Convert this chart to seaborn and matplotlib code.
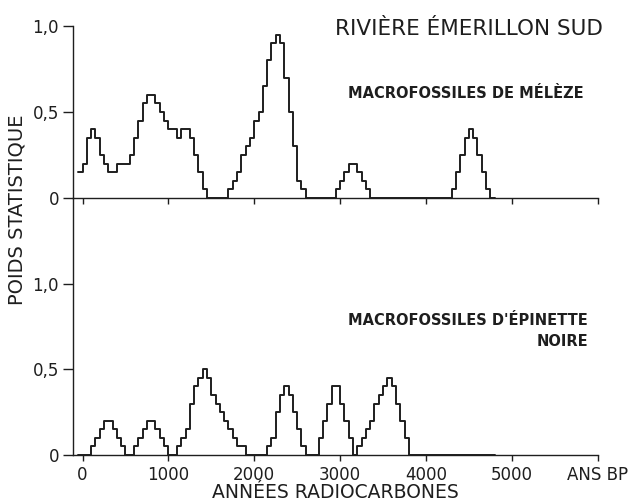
import numpy as np
import pandas as pd
import seaborn as sns
import matplotlib
matplotlib.use("Agg")
import matplotlib.pyplot as plt

# ---- data (bin start year, statistical weight), 50-year bins ----
larch_years = [-50, 0, 50, 100, 150, 200, 250, 300, 350, 400, 450, 500, 550, 600, 650,
               700, 750, 800, 850, 900, 950, 1000, 1050, 1100, 1150, 1200, 1250, 1300, 1350, 1400,
               1700, 1750, 1800, 1850, 1900, 1950, 2000, 2050, 2100, 2150, 2200, 2250, 2300,
               2350, 2400, 2450, 2500, 2550,
               2950, 3000, 3050, 3100, 3150, 3200, 3250, 3300,
               4300, 4350, 4400, 4450, 4500, 4550, 4600, 4650, 4700]
larch_weight = [0.15, 0.2, 0.35, 0.4, 0.35, 0.25, 0.2, 0.15, 0.15, 0.2, 0.2, 0.2, 0.25, 0.35, 0.45,
                0.55, 0.6, 0.6, 0.55, 0.5, 0.45, 0.4, 0.4, 0.35, 0.4, 0.4, 0.35, 0.25, 0.15, 0.05,
                0.05, 0.1, 0.15, 0.25, 0.3, 0.35, 0.45, 0.5, 0.65, 0.8, 0.9, 0.95, 0.9,
                0.7, 0.5, 0.3, 0.1, 0.05,
                0.05, 0.1, 0.15, 0.2, 0.2, 0.15, 0.1, 0.05,
                0.05, 0.15, 0.25, 0.35, 0.4, 0.35, 0.25, 0.15, 0.05]

spruce_years = [100, 150, 200, 250, 300, 350, 400, 450,
                600, 650, 700, 750, 800, 850, 900, 950,
                1100, 1150, 1200, 1250, 1300, 1350, 1400, 1450, 1500, 1550, 1600, 1650, 1700,
                1750, 1800, 1850,
                2150, 2200, 2250, 2300, 2350, 2400, 2450, 2500, 2550,
                2750, 2800, 2850, 2900, 2950, 3000, 3050, 3100,
                3200, 3250, 3300, 3350, 3400, 3450, 3500, 3550, 3600, 3650, 3700, 3750]
spruce_weight = [0.05, 0.1, 0.15, 0.2, 0.2, 0.15, 0.1, 0.05,
                 0.05, 0.1, 0.15, 0.2, 0.2, 0.15, 0.1, 0.05,
                 0.05, 0.1, 0.15, 0.3, 0.4, 0.45, 0.5, 0.45, 0.35, 0.3, 0.25, 0.2, 0.15,
                 0.1, 0.05, 0.05,
                 0.05, 0.1, 0.25, 0.35, 0.4, 0.35, 0.25, 0.15, 0.05,
                 0.1, 0.2, 0.3, 0.4, 0.4, 0.3, 0.2, 0.1,
                 0.05, 0.1, 0.15, 0.2, 0.3, 0.35, 0.4, 0.45, 0.4, 0.3, 0.2, 0.1]

x_ticks = [0, 1000, 2000, 3000, 4000, 5000, 6000]
x_tick_labels = ["0", "1000", "2000", "3000", "4000", "5000", "ANS BP"]
y_ticks = [0, 0.5, 1.0]
y_tick_labels = ["0", "0,5", "1,0"]

BIN = 50

sns.set_theme(style="white")
plt.rcParams["font.family"] = ["DejaVu Sans"]

W, H = 628, 503
fig = plt.figure(figsize=(W / 100, H / 100), dpi=100)

x_left_px, x_right_px = 73, 597.7
zero_px, six_px = 82.5, 597.7
xscale = (six_px - zero_px) / 6000.0
xmin = -(zero_px - x_left_px) / xscale
xmax = 6000

def fx(px):
    return px / W

def fy(py):
    return 1 - py / H

ax_bot = fig.add_axes([fx(x_left_px), fy(455), fx(x_right_px) - fx(x_left_px), fy(198) - fy(455)])
ax_top = fig.add_axes([fx(x_left_px), fy(198), fx(x_right_px) - fx(x_left_px), fy(26) - fy(198)])
ax_bot.patch.set_alpha(0)
ax_top.patch.set_alpha(0)

ink = "#1e1e1e"

larch = pd.DataFrame({"year": np.array(larch_years, dtype=float) + BIN / 2,
                      "w": np.array(larch_weight, dtype=float)})
spruce = pd.DataFrame({"year": np.array(spruce_years, dtype=float) + BIN / 2,
                       "w": np.array(spruce_weight, dtype=float)})

sns.histplot(data=larch, x="year", weights="w", binwidth=BIN, binrange=(-50, 4800),
             element="step", fill=False, color=ink, linewidth=1.4, ax=ax_top)
sns.histplot(data=spruce, x="year", weights="w", binwidth=BIN, binrange=(-50, 4800),
             element="step", fill=False, color=ink, linewidth=1.4, ax=ax_bot)

for ax in (ax_top, ax_bot):
    ax.set_xlim(xmin, xmax)
    ax.set_xlabel("")
    ax.set_ylabel("")
    ax.spines["right"].set_visible(False)
    ax.spines["top"].set_visible(False)
    for s in ("left", "bottom"):
        ax.spines[s].set_color(ink)
        ax.spines[s].set_linewidth(1.0)
    ax.set_xticks(x_ticks)
    ax.set_yticks(y_ticks)
    ax.set_yticklabels(y_tick_labels)
    ax.tick_params(axis="y", direction="out", length=7, width=1.0, color=ink,
                   labelsize=12, pad=3, labelcolor=ink, left=True)
    ax.tick_params(axis="x", direction="out", length=4, width=1.0, color=ink,
                   labelsize=12, pad=4, labelcolor=ink, bottom=True)
    ax.grid(False)

ax_top.set_ylim(0, 1.0)
ax_bot.set_ylim(0, 1.5)
ax_top.set_xticklabels([])
ax_bot.set_xticklabels(x_tick_labels)

fig.text(fx(603), fy(29), "RIVIÈRE ÉMERILLON SUD", ha="right", va="center",
         fontsize=15.5, color=ink)
fig.text(fx(584), fy(93), "MACROFOSSILES DE MÉLÈZE", ha="right", va="center",
         fontsize=10.5, fontweight="bold", color=ink)
fig.text(fx(588), fy(331), "MACROFOSSILES D'ÉPINETTE\nNOIRE", ha="right", va="center",
         multialignment="right", fontsize=10.5, fontweight="bold", color=ink, linespacing=1.45)
fig.text(fx(17), fy(210), "POIDS STATISTIQUE", rotation=90, ha="center", va="center",
         fontsize=14, color=ink)
fig.text(fx(335), fy(492), "ANNÉES RADIOCARBONES", ha="center", va="center",
         fontsize=13.5, color=ink)

fig.savefig("out.png", dpi=100, facecolor="white")
